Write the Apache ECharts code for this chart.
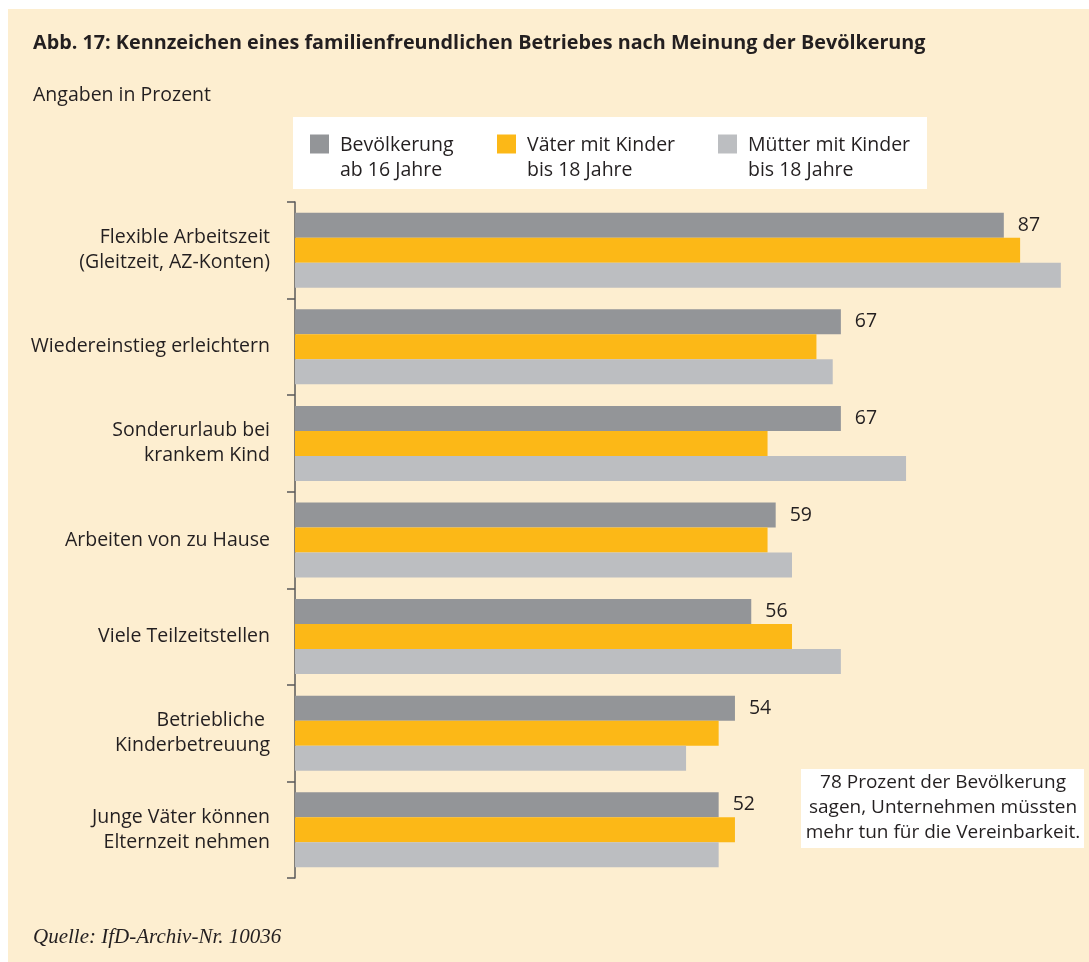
<html>
<head>
<meta charset="UTF-8">
<title>Abb. 17</title>
<script src="https://cdn.jsdelivr.net/npm/echarts@6/dist/echarts.min.js"></script>
<style>
    body{ margin:0; background:#fff; }
    #main{ width:1089px; height:962px; }
</style>
</head>
<body>
<div id="main"></div>
<script>
// Daten
var categories = ['Flexible Arbeitszeit\n(Gleitzeit, AZ-Konten)', 'Wiedereinstieg erleichtern', 'Sonderurlaub bei\nkrankem Kind',
    'Arbeiten von zu Hause', 'Viele Teilzeitstellen', 'Betriebliche \nKinderbetreuung', 'Junge Väter können\nElternzeit nehmen'];
var seriesNames = ['Bevölkerung\nab 16 Jahre', 'Väter mit Kinder\nbis 18 Jahre', 'Mütter mit Kinder\nbis 18 Jahre'];
var bevoelkerung = [87, 67, 67, 59, 56, 54, 52];
var vaeter = [89, 64, 58, 58, 61, 52, 54];
var muetter = [94, 66, 75, 61, 67, 48, 52];
var colors = ['#939598', '#fcb817', '#bcbec1'];

var FONT = '"Open Sans", "Noto Sans", sans-serif';
var TXT = '#231f20';
var FS = 19.5;

var myChart = echarts.init(document.getElementById('main'));

// Legende: eine pro Serie, damit die Positionen passen
var legendLeft = [310, 497, 718];
var legends = seriesNames.map(function (n, i) {
    return {
        left: legendLeft[i],
        top: 118,
        padding: 0,
        data: [n],
        icon: 'rect',
        itemWidth: 19,
        itemHeight: 19,
        selectedMode: false,
        formatter: function (name) {
            var l = name.split('\n');
            // leere Zeile oben, damit die Schrift unter dem Kästchen beginnt
            return '{s|\u00a0}\n{t|' + l[0] + '}\n{t|' + l[1] + '}';
        },
        textStyle: {
            fontFamily: FONT, fontSize: FS, color: TXT,
            rich: {
                s: { fontSize: 2, lineHeight: 28 },
                t: { fontFamily: FONT, fontSize: FS, color: TXT, lineHeight: 25, padding: [0, 0, 0, 6] }
            }
        }
    };
});

var option = {
    animation: false,
    textStyle: { fontFamily: FONT },
    graphic: [
        { type: 'rect', z: -10, shape: { x: 8, y: 9, width: 1081, height: 953 }, style: { fill: '#fdeed0' } },
        { type: 'rect', z: -5, shape: { x: 293, y: 117, width: 634, height: 72 }, style: { fill: '#fff' } },
        { type: 'rect', z: 5, shape: { x: 801, y: 769, width: 283, height: 79 }, style: { fill: '#fff' } },
        { type: 'text', z: 6, x: 943, y: 808, style: {
            text: '78 Prozent der Bevölkerung\nsagen, Unternehmen müssten\nmehr tun für die Vereinbarkeit.',
            font: '19px ' + FONT, fill: TXT, align: 'center', verticalAlign: 'middle', lineHeight: 25 } },
        { type: 'text', x: 33, y: 43, style: {
            text: 'Abb. 17: Kennzeichen eines familienfreundlichen Betriebes nach Meinung der Bevölkerung',
            font: 'bold 19.8px ' + FONT, fill: TXT, verticalAlign: 'middle' } },
        { type: 'text', x: 33, y: 95, style: {
            text: 'Angaben in Prozent', font: FS + 'px ' + FONT, fill: TXT, verticalAlign: 'middle' } },
        { type: 'text', x: 33, y: 937, style: {
            text: 'Quelle: IfD-Archiv-Nr. 10036', font: 'italic 21px "Liberation Serif", serif', fill: TXT, verticalAlign: 'middle' } }
    ],
    legend: legends,
    grid: { left: 295, right: 20, top: 202, bottom: 84, containLabel: false },
    xAxis: {
        type: 'value', min: 0, max: 95,
        show: false
    },
    yAxis: {
        type: 'category',
        inverse: true,
        data: categories,
        axisLine: { lineStyle: { color: '#58585a', width: 1.5 } },
        axisTick: { show: true, inside: false, length: 8, lineStyle: { color: '#58585a', width: 1.5 } },
        axisLabel: { margin: 25, fontSize: FS, color: TXT, lineHeight: 25, fontFamily: FONT }
    },
    series: [
        {
            name: seriesNames[0], type: 'bar', data: bevoelkerung, barWidth: 25, barGap: '0%',
            itemStyle: { color: colors[0] },
            label: { show: true, position: 'right', distance: 14, fontSize: FS, color: TXT, fontFamily: FONT }
        },
        {
            name: seriesNames[1], type: 'bar', data: vaeter, barWidth: 25, barGap: '0%',
            itemStyle: { color: colors[1] }
        },
        {
            name: seriesNames[2], type: 'bar', data: muetter, barWidth: 25, barGap: '0%',
            itemStyle: { color: colors[2] }
        }
    ]
};
myChart.setOption(option);
</script>
</body>
</html>
